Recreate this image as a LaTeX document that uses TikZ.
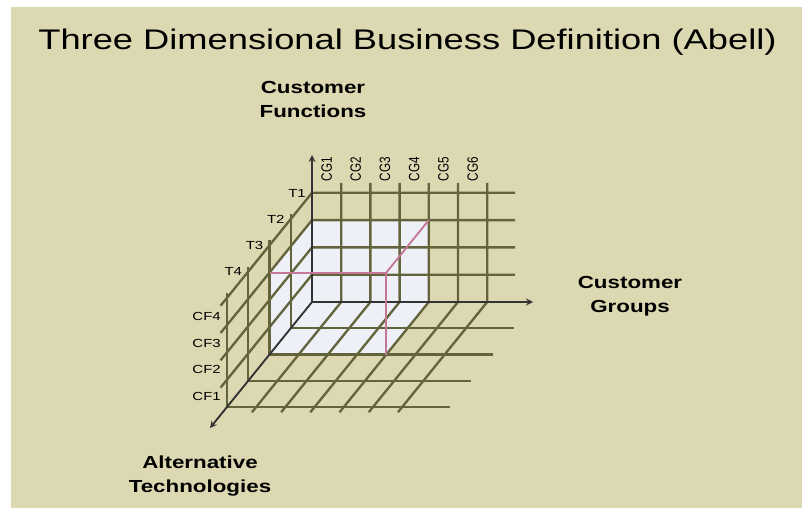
\documentclass[tikz,border=0pt]{standalone}
\usepackage{fontspec}
\setmainfont{Liberation Sans}
\newfontfamily\widefont[FakeStretch=1.28]{Liberation Sans}
\usetikzlibrary{arrows}

\definecolor{paper}{RGB}{220,216,178}
\definecolor{gridcol}{RGB}{100,100,60}
\definecolor{boxfill}{RGB}{238,240,248}
\definecolor{edgepink}{RGB}{196,120,150}

\begin{document}
\begin{tikzpicture}[
    x=0.03cm, y=-0.03cm,
    gridline/.style={draw=gridcol, line width=2pt},
    axis/.style={->, >=stealth, draw=black!80, line width=1.6pt},
    boxedge/.style={draw=edgepink, line width=1.6pt},
    headline/.style={font=\widefont\fontsize{24.2}{29}\selectfont},
    axisname/.style={font=\widefont\bfseries\fontsize{14.9}{20.4}\selectfont, align=center},
    tag/.style={font=\widefont\fontsize{10}{12}\selectfont, inner sep=0pt},
    cgtag/.style={font=\fontsize{10}{12}\selectfont, inner sep=0pt, rotate=90}
]
% Background
\fill[white] (0,0) rectangle (802,508);
\fill[paper] (11,7) rectangle (802,508);
\useasboundingbox (0,0) rectangle (802,508);

% Title
\node[headline] (title) at (407.5,42.5) {Three Dimensional Business Definition (Abell)};

% Origin and axis ends
\coordinate (origin) at (312,302);
\coordinate (cfend) at (312,155);
\coordinate (cgend) at (533,302);
\coordinate (tend) at (210,428);

% Shaded business box
\coordinate (bx1) at (312,220.1);
\coordinate (bx2) at (428.8,220.1);
\coordinate (bx3) at (428.8,302);
\coordinate (bx4) at (386.3,354.5);
\coordinate (bx5) at (269.5,354.5);
\coordinate (bx6) at (269.5,272.6);
\coordinate (bx7) at (386.3,272.6);
\fill[boxfill] (bx1) -- (bx2) -- (bx3) -- (bx4) -- (bx5) -- (bx6) -- cycle;

% Back wall columns running on into the floor
\foreach \m in {1,...,6}
  \draw[gridline] ({312+29.2*\m},183) -- ({312+29.2*\m},302) -- ++(-89.25,110.25);
% Back wall rows running on into the left wall
\foreach \j in {1,...,4}
  \draw[gridline] (515,{302-27.3*\j}) -- (312,{302-27.3*\j}) -- ++(-91.4,112.9);
% Left wall verticals running on into the floor rows
\foreach \k in {1,...,4}
  \draw[gridline] ({312-21.25*\k},{188+26.25*\k}) -- ++(0,114) -- ++(223,0);

% Axes
\draw[axis] (origin) -- (cfend);
\draw[axis] (origin) -- (cgend);
\draw[axis] (origin) -- (tend);

% Front edges of the box
\draw[boxedge] (bx6) -- (bx7) -- (bx4);
\draw[boxedge] (bx7) -- (bx2);

% Tick labels
\foreach \m in {1,...,6}
  \node[cgtag] (cg\m) at ({312+29.2*\m-14.6},169) {\scalebox{1}[1.28]{CG\m}};
\foreach \k/\n in {0/1,1/2,2/3,3/4}
  \node[tag] (t\n) at ({297-21.25*\k},{193+26.25*\k}) {T\n};
\foreach \n/\yy in {4/316,3/343,2/369.5,1/396}
  \node[tag, anchor=east] (cf\n) at (221,\yy) {CF\n};

% Axis names
\node[axisname] (cfname) at (313,99.3) {Customer\\Functions};
\node[axisname] (cgname) at (630,296) {Customer\\Groups};
\node[axisname] (tname) at (200,476) {Alternative\\Technologies};
\end{tikzpicture}
\end{document}
